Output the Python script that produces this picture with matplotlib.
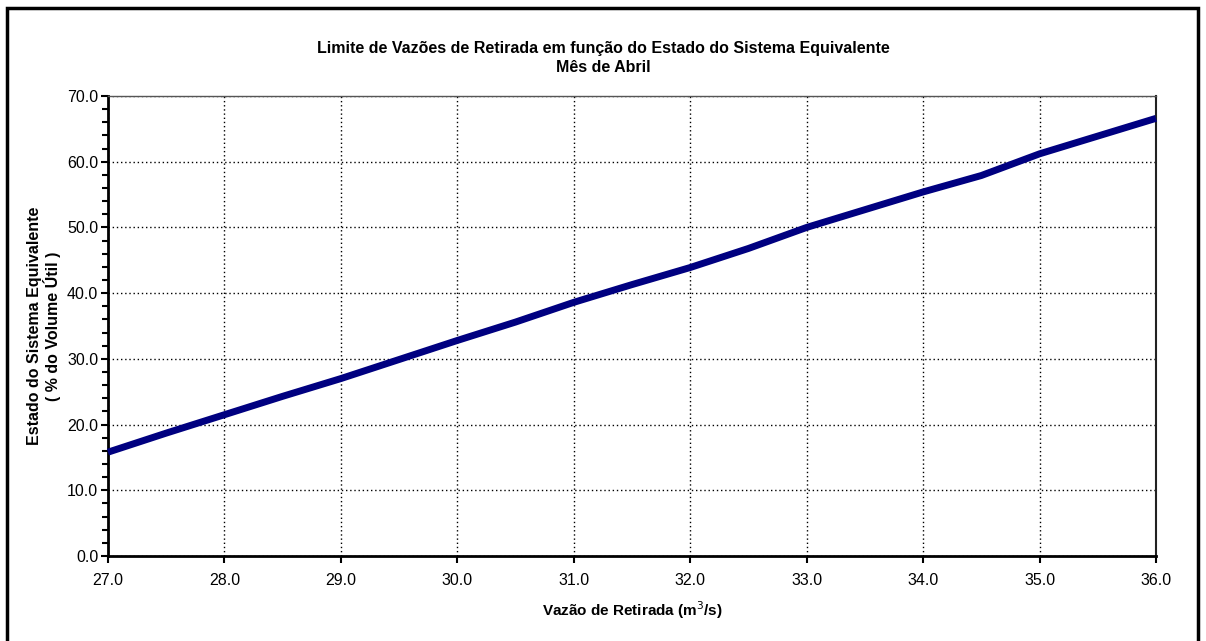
import matplotlib
matplotlib.use("Agg")
import matplotlib.pyplot as plt
from matplotlib.patches import Rectangle
from matplotlib.ticker import MultipleLocator, FormatStrFormatter

plt.rcParams['font.family'] = ['Liberation Sans', 'DejaVu Sans']

vazao = [27.0, 27.5, 28.0, 28.5, 29.0, 29.5, 30.0, 30.5, 31.0, 31.5,
         32.0, 32.5, 33.0, 33.5, 34.0, 34.5, 35.0, 35.5, 36.0]
estado = [15.8, 18.7, 21.5, 24.3, 27.0, 29.9, 32.8, 35.6, 38.6, 41.3,
          43.9, 46.8, 50.0, 52.7, 55.4, 57.9, 61.2, 63.9, 66.6]

title = "Limite de Vazões de Retirada em função do Estado do Sistema Equivalente\nMês de Abril"
xlabel = "Vazão de Retirada (m$^3$/s)"
ylabel = "Estado do Sistema Equivalente\n( % do Volume Útil )"

W, H = 1206, 641
fig = plt.figure(figsize=(W / 100, H / 100), dpi=100)
fig.patch.set_facecolor('white')

# outer frame
fig.patches.append(Rectangle((7 / W, -0.02), (1198 - 7) / W, 1 - 8 / H + 0.02,
                             transform=fig.transFigure, fill=False,
                             edgecolor='black', linewidth=2.5, zorder=0))

left, right, top, bottom = 108 / W, 1156 / W, 1 - 96 / H, 1 - 556 / H
ax = fig.add_axes([left, bottom, right - left, top - bottom])

ax.plot(vazao, estado, color='#000080', linewidth=5, solid_joinstyle='round',
        solid_capstyle='butt', zorder=3, clip_on=False)

ax.set_xlim(27, 36)
ax.set_ylim(0, 70)
ax.xaxis.set_major_locator(MultipleLocator(1))
ax.yaxis.set_major_locator(MultipleLocator(10))
ax.yaxis.set_minor_locator(MultipleLocator(2))
ax.xaxis.set_major_formatter(FormatStrFormatter('%.1f'))
ax.yaxis.set_major_formatter(FormatStrFormatter('%.1f'))

ax.grid(True, which='major', color='black', linestyle=(0, (1, 2)), linewidth=1.0)
ax.set_axisbelow(True)

ax.tick_params(axis='both', which='major', direction='out', length=5, width=1.5,
               labelsize=11.5, color='black')
ax.tick_params(axis='x', which='major', pad=7)
ax.tick_params(axis='y', which='major', pad=2)
ax.tick_params(axis='y', which='minor', direction='out', length=4, width=1.5)

for s in ('left', 'bottom'):
    ax.spines[s].set_linewidth(2)
    ax.spines[s].set_color('black')
ax.spines['top'].set_linewidth(1)
ax.spines['top'].set_color('#555555')
ax.spines['right'].set_linewidth(1.5)
ax.spines['right'].set_color('#222222')

fig.text(603 / W, 1 - 58 / H, title, ha='center', va='center',
         fontsize=11.5, fontweight='bold', linespacing=1.35)
fig.text((left + right) / 2, 1 - 610 / H, xlabel, ha='center', va='center',
         fontsize=11, fontweight='bold')
fig.text(44 / W, (top + bottom) / 2, ylabel, ha='center', va='center',
         rotation=90, fontsize=11.5, fontweight='bold', linespacing=1.05)

fig.savefig("out.png", dpi=100, facecolor='white')
